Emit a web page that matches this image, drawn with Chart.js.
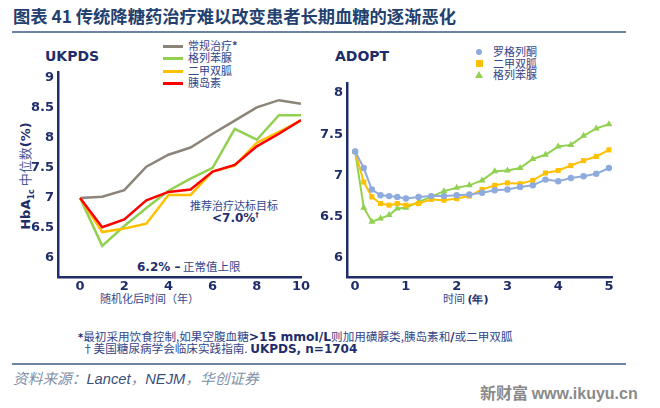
<!DOCTYPE html>
<html>
<head>
<meta charset="utf-8">
<script src="https://cdn.jsdelivr.net/npm/chart.js@4.4.0/dist/chart.umd.min.js"></script>
<style>
  body { margin: 0; background: #fff; }
  #page { position: relative; width: 660px; height: 408px; overflow: hidden; background: #fff;
          font-family: "Noto Sans CJK SC", "DejaVu Sans", sans-serif; color: #2E3F7F; }
  .t { position: absolute; white-space: nowrap; line-height: 1; }
  .b { font-family: "DejaVu Sans", sans-serif; font-weight: bold; color: #1F2D6B; }
  .leg { position: absolute; font-size: 11px; white-space: nowrap; line-height: 1; color: #34458A; }
  .swatch { position: absolute; width: 20px; height: 3px; }
  canvas { position: absolute; }
</style>
</head>
<body>
<div id="page">
  <div class="t" style="left:13px; top:7px; font-size:17.3px; font-weight:bold; color:#23406E;">图表 41 传统降糖药治疗难以改变患者长期血糖的逐渐恶化</div>
  <div style="position:absolute; left:12px; top:31px; width:614px; height:2px; background:#6B84A3;"></div>

  <div class="t b" style="left:45px; top:49px; font-size:14px;">UKPDS</div>
  <div class="t b" style="left:335px; top:49px; font-size:14px;">ADOPT</div>

  <!-- left legend -->
  <div class="swatch" style="left:163px; top:45px; background:#8C8479;"></div>
  <div class="leg" style="left:188px; top:40px;">常规治疗<b>*</b></div>
  <div class="swatch" style="left:163px; top:57px; background:#92D050;"></div>
  <div class="leg" style="left:188px; top:52px;">格列苯脲</div>
  <div class="swatch" style="left:163px; top:70px; background:#FFC000;"></div>
  <div class="leg" style="left:188px; top:65px;">二甲双胍</div>
  <div class="swatch" style="left:163px; top:82px; background:#FF0000;"></div>
  <div class="leg" style="left:188px; top:77px;">胰岛素</div>

  <!-- right legend -->
  <div style="position:absolute; left:476px; top:49px; width:6px; height:6px; border-radius:3px; background:#8FAADC;"></div>
  <div class="leg" style="left:493px; top:46px;">罗格列酮</div>
  <div style="position:absolute; left:476px; top:60px; width:7px; height:7px; background:#FFC000;"></div>
  <div class="leg" style="left:493px; top:58px;">二甲双胍</div>
  <div style="position:absolute; left:475px; top:71px; width:0; height:0; border-left:4px solid transparent; border-right:4px solid transparent; border-bottom:7px solid #92D050;"></div>
  <div class="leg" style="left:493px; top:69px;">格列苯脲</div>

  <!-- y axis title -->
  <div class="t" style="left:-25px; top:169px; width:104px; text-align:center; transform:rotate(-90deg); font-size:13px;">
    <span class="b">HbA<sub style="font-size:8px;">1c</sub></span> <span style="color:#4A5A9A;">中位数</span><span class="b">(%)</span>
  </div>

  <!-- annotations -->
  <div class="t" style="left:190px; top:200px; font-size:11px; color:#34458A;">推荐治疗达标目标</div>
  <div class="t b" style="left:212px; top:212px; font-size:12px;">&lt;7.0%<sup style="font-size:7px;">†</sup></div>
  <div class="t" style="left:137px; top:261px; font-size:11.5px; color:#34458A;"><span class="b" style="font-size:12px;">6.2% –</span> 正常值上限</div>

  <div class="t" style="left:100px; top:293px; font-size:11px; color:#34458A;">随机化后时间（年）</div>
  <div class="t" style="left:443px; top:293px; font-size:11px; color:#34458A;">时间 <span class="b" style="font-size:11px;">(年)</span></div>

  <!-- footnotes -->
  <div class="t" style="left:78px; top:331px; font-size:11.6px; color:#34458A;"><span class="b" style="font-size:10px;">*</span>最初采用饮食控制,如果空腹血糖<span class="b" style="font-size:12.3px;">&gt;15 mmol/L</span>则加用磺脲类,胰岛素和<span class="b">/</span>或二甲双胍</div>
  <div class="t" style="left:82px; top:343px; font-size:11.6px; color:#34458A;">†美国糖尿病学会临床实践指南. <span class="b" style="font-size:12px;">UKPDS, n=1704</span></div>
  <div style="position:absolute; left:12px; top:363px; width:614px; height:2px; background:#6B84A3;"></div>
  <div class="t" style="left:13px; top:371px; font-size:14.7px; font-style:italic; color:#8090A8;">资料来源：<span style="font-family:'Liberation Sans'; color:#3A4F7A;">Lancet</span>，<span style="font-family:'Liberation Sans'; color:#3A4F7A;">NEJM</span>，华创证券</div>
  <div class="t" style="left:480px; top:384px; font-size:16px; font-weight:bold; color:#8A8A8A;">新财富 <span style="font-family:'Liberation Sans';">www.ikuyu.cn</span></div>

  <canvas id="ukpds" width="320" height="250" style="left:0; top:60px;"></canvas>
  <canvas id="adopt" width="330" height="250" style="left:320px; top:60px;"></canvas>
</div>

<script>
// UKPDS - median HbA1c (%) by year after randomisation
const ukpdsYears = [0, 1, 2, 3, 4, 5, 6, 7, 8, 9, 10];
const ukpdsConventional = [7.0, 7.02, 7.13, 7.52, 7.72, 7.84, 8.07, 8.29, 8.51, 8.63, 8.57];
const ukpdsGlibenclamide = [7.0, 6.2, 6.53, 6.83, 7.12, 7.32, 7.5, 8.15, 7.97, 8.38, 8.38];
const ukpdsMetformin = [7.0, 6.43, 6.49, 6.57, 7.05, 7.05, 7.44, 7.54, 7.92, 8.1, 8.29];
const ukpdsInsulin = [7.0, 6.51, 6.64, 6.96, 7.1, 7.14, 7.44, 7.55, 7.86, 8.07, 8.3];
const ukpdsXTicks = [0, 2, 4, 6, 8, 10];
const ukpdsYTicks = [6, 6.5, 7, 7.5, 8, 8.5, 9];

// ADOPT - HbA1c (%) by year
const adoptYears = [0, 0.17, 0.33, 0.5, 0.67, 0.83, 1, 1.25, 1.5, 1.75, 2, 2.25, 2.5, 2.75, 3, 3.25, 3.5, 3.75, 4, 4.25, 4.5, 4.75, 5];
const adoptRosiglitazone = [7.29, 7.09, 6.83, 6.76, 6.75, 6.74, 6.72, 6.74, 6.75, 6.75, 6.76, 6.77, 6.79, 6.82, 6.83, 6.86, 6.88, 6.95, 6.93, 6.97, 6.99, 7.02, 7.09];
const adoptMetformin = [7.29, 6.92, 6.74, 6.66, 6.64, 6.66, 6.64, 6.66, 6.71, 6.7, 6.72, 6.75, 6.83, 6.88, 6.91, 6.9, 6.94, 7.03, 7.06, 7.12, 7.18, 7.23, 7.31];
const adoptGlyburide = [7.29, 6.61, 6.44, 6.48, 6.52, 6.6, 6.61, 6.68, 6.74, 6.81, 6.85, 6.88, 6.94, 7.05, 7.06, 7.09, 7.2, 7.25, 7.35, 7.37, 7.48, 7.57, 7.62];
const adoptXTicks = [0, 1, 2, 3, 4, 5];
const adoptYTicks = [6, 6.5, 7, 7.5, 8];

const navy = '#1F2D6B';
const tickFont = { family: 'DejaVu Sans', size: 13, weight: 'bold' };

function pts(xs, ys) {
  return xs.map((x, i) => ({ x: x, y: ys[i] }));
}

function axis(min, max, tickVals, fitKey, fitVal, pad) {
  return {
    type: 'linear',
    min: min,
    max: max,
    grid: { display: false, drawTicks: false, tickLength: 0 },
    border: { display: true, color: navy, width: 2.5 },
    ticks: { color: navy, font: tickFont, padding: pad, autoSkip: false, callback: v => String(v) },
    afterBuildTicks: s => { s.ticks = tickVals.map(v => ({ value: v })); },
    afterFit: s => { s[fitKey] = fitVal; }
  };
}

new Chart(document.getElementById('ukpds'), {
  type: 'line',
  data: {
    datasets: [
      { label: '胰岛素', data: pts(ukpdsYears, ukpdsInsulin), borderColor: '#FF0000', order: 1 },
      { label: '二甲双胍', data: pts(ukpdsYears, ukpdsMetformin), borderColor: '#FFC000', order: 2 },
      { label: '格列苯脲', data: pts(ukpdsYears, ukpdsGlibenclamide), borderColor: '#92D050', order: 3 },
      { label: '常规治疗*', data: pts(ukpdsYears, ukpdsConventional), borderColor: '#8C8479', order: 4 }
    ]
  },
  options: {
    responsive: false,
    animation: false,
    layout: { padding: { top: 12, right: 19, left: 0, bottom: 0 } },
    elements: { line: { borderWidth: 2.5, tension: 0 }, point: { radius: 0 } },
    plugins: { legend: { display: false }, tooltip: { enabled: false } },
    scales: {
      x: axis(-1, 10, ukpdsXTicks, 'height', 33, 2),
      y: axis(5.68, 9.1, ukpdsYTicks, 'width', 58, 4)
    }
  }
});

new Chart(document.getElementById('adopt'), {
  type: 'line',
  data: {
    datasets: [
      { label: '罗格列酮', data: pts(adoptYears, adoptRosiglitazone), borderColor: '#8FAADC', backgroundColor: '#8FAADC', pointStyle: 'circle', pointRadius: 3.2 },
      { label: '二甲双胍', data: pts(adoptYears, adoptMetformin), borderColor: '#FFC000', backgroundColor: '#FFC000', pointStyle: 'rect', pointRadius: 3.6 },
      { label: '格列苯脲', data: pts(adoptYears, adoptGlyburide), borderColor: '#92D050', backgroundColor: '#92D050', pointStyle: 'triangle', pointRadius: 4 }
    ]
  },
  options: {
    responsive: false,
    animation: false,
    layout: { padding: { top: 23, right: 38, left: 0, bottom: 0 } },
    elements: { line: { borderWidth: 2, tension: 0 }, point: { borderWidth: 0 } },
    plugins: { legend: { display: false }, tooltip: { enabled: false } },
    scales: {
      x: axis(-0.16, 5.06, adoptXTicks, 'height', 33, 2),
      y: axis(5.77, 8.12, adoptYTicks, 'width', 27, 4)
    }
  }
});
</script>
</body>
</html>
